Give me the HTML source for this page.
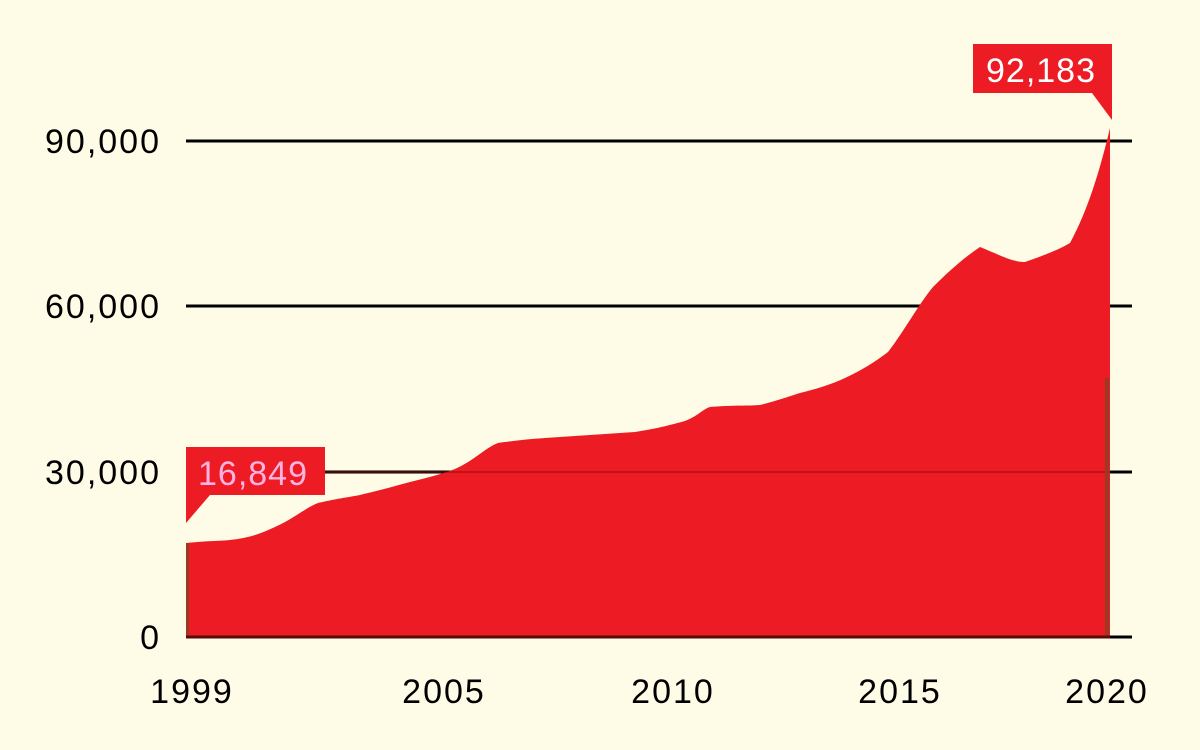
<!DOCTYPE html>
<html><head><meta charset="utf-8"><style>
body{margin:0;background:#fefbe6;}
svg{display:block;font-family:"Liberation Sans",sans-serif;}
</style></head><body>
<svg width="1200" height="750" viewBox="0 0 1200 750">
<rect width="1200" height="750" fill="#fefbe6"/>
<g stroke="#000" stroke-width="3">
<line x1="186" y1="141" x2="1132" y2="141"/>
<line x1="186" y1="306" x2="1132" y2="306"/>
<line x1="186" y1="472" x2="1132" y2="472"/>
<line x1="186" y1="637" x2="1132" y2="637"/>
</g>
<path d="M186,637 L186,543 C205,541 220,541 230,540 C250,538 262,533 275,527 C295,518 305,508 318,503 C340,498 350,497 360,495 C385,489 395,486 410,482 C430,477 442,474 455,469 C475,460 485,448 498,443 C520,440 530,439 545,438 L590,435 L635,432 C660,428 670,425 685,421 C698,416 703,409 710,407 C735,405 748,406 760,405 C780,400 790,396 800,393 C820,388 832,384 845,378 C862,370 875,362 888,352 C905,330 918,305 933,287 C950,270 965,257 980,247 C1000,255 1012,262 1025,262 C1045,255 1058,250 1070,243 C1088,210 1100,170 1110,128 L1110,637 Z" fill="#ed1c24"/>
<line x1="186" y1="472" x2="1110" y2="472" stroke="#8a1010" stroke-width="2" opacity="0.5"/>
<line x1="187.5" y1="543" x2="187.5" y2="637" stroke="#9b3a22" stroke-width="3"/>
<line x1="1107" y1="378" x2="1107" y2="637" stroke="#9b3a22" stroke-width="4"/>
<line x1="186" y1="637" x2="1110" y2="637" stroke="#5a0a0a" stroke-width="3"/>
<path d="M186,447 L325,447 L325,495 L210,495 L186,523 Z" fill="#ed1c24"/>
<text x="198" y="485" font-size="34" fill="#ffb3e0" letter-spacing="1">16,849</text>
<path d="M973,44 L1112,44 L1112,120 L1092,93 L973,93 Z" fill="#ed1c24"/>
<text x="986" y="82" font-size="34" fill="#fff" letter-spacing="1">92,183</text>
<g font-size="34" fill="#000" text-anchor="end" letter-spacing="2">
<text x="161" y="153">90,000</text>
<text x="161" y="318">60,000</text>
<text x="161" y="484">30,000</text>
<text x="161" y="649">0</text>
</g>
<g font-size="34" fill="#000" text-anchor="middle" letter-spacing="2">
<text x="192" y="703">1999</text>
<text x="444" y="703">2005</text>
<text x="673" y="703">2010</text>
<text x="900" y="703">2015</text>
<text x="1107" y="703">2020</text>
</g>
</svg>
</body></html>
